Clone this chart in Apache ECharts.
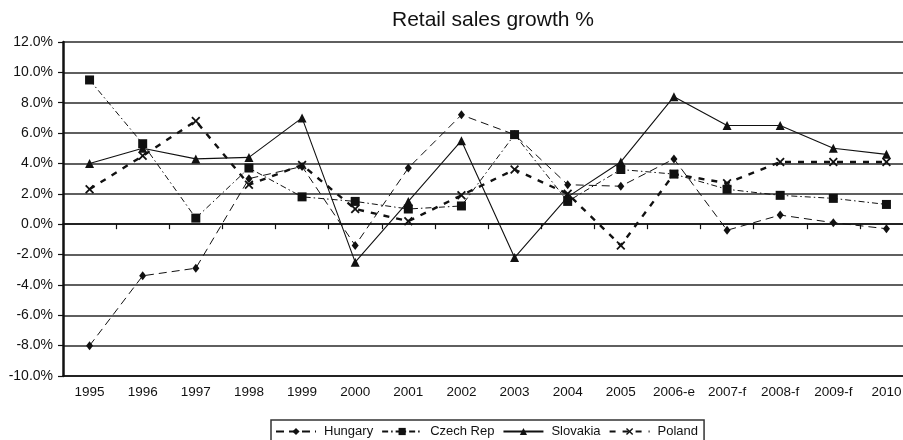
<!DOCTYPE html>
<html>
<head>
<meta charset="utf-8">
<script src="https://cdn.jsdelivr.net/npm/echarts@6/dist/echarts.min.js"></script>
<style>
  html, body { margin: 0; padding: 0; background: #fff; overflow: hidden; width: 903px; height: 440px; }
  /* the plot runs slightly past the right edge of the page */
  #chart { width: 913px; height: 440px; }
</style>
</head>
<body>
<div id="chart"></div>
<script>
// Years (with estimate / forecast flags)
const years = ['1995','1996','1997','1998','1999','2000','2001','2002','2003','2004','2005','2006-e','2007-f','2008-f','2009-f','2010'];

// Retail sales growth, % per year
const hungary  = [-8.0, -3.4, -2.9, 3.0, 3.8, -1.4, 3.7, 7.2, 5.9, 2.6, 2.5, 4.3, -0.4, 0.6, 0.1, -0.3];
const czechRep = [9.5, 5.3, 0.4, 3.7, 1.8, 1.5, 1.0, 1.2, 5.9, 1.5, 3.6, 3.3, 2.3, 1.9, 1.7, 1.3];
const slovakia = [4.0, 5.0, 4.3, 4.4, 7.0, -2.5, 1.5, 5.5, -2.2, 1.8, 4.1, 8.4, 6.5, 6.5, 5.0, 4.6];
const poland   = [2.3, 4.5, 6.8, 2.6, 3.9, 1.0, 0.2, 1.9, 3.6, 2.0, -1.4, 3.3, 2.7, 4.1, 4.1, 4.1];

// Value axis range and step
const yMin = -10, yMax = 12, yStep = 2;

const INK = '#111';
const FONT = '"Liberation Sans", Arial, Helvetica, sans-serif';
const CROSS = 'path://M0,1.4L1.4,0L5,3.6L8.6,0L10,1.4L6.4,5L10,8.6L8.6,10L5,6.4L1.4,10L0,8.6L3.6,5Z';

function lineSeries(name, data, symbol, size, width, dash) {
  return {
    name, type: 'line', data,
    xAxisIndex: 0, yAxisIndex: 0,
    symbol, symbolSize: size,
    showSymbol: true,
    itemStyle: { color: INK },
    lineStyle: { color: INK, width, type: dash },
    emphasis: { disabled: true },
    animation: false
  };
}

const chart = echarts.init(document.getElementById('chart'), null, { renderer: 'canvas' });
chart.setOption({
  backgroundColor: '#fff',
  animation: false,
  title: {
    text: 'Retail sales growth %',
    left: 392, top: 10, padding: 0,
    textStyle: { fontFamily: FONT, fontSize: 21, fontWeight: 'normal', color: INK }
  },
  legend: {
    left: 271, top: 420,
    padding: [5, 6, 8, 4],
    borderColor: '#333', borderWidth: 1.5,
    itemWidth: 40, itemHeight: 9, itemGap: 8,
    textStyle: { fontFamily: FONT, fontSize: 13, color: INK, padding: [0, 0, 0, 3] },
    data: ['Hungary', 'Czech Rep', 'Slovakia', 'Poland']
  },
  grid: { left: 63, top: 42, right: 0, bottom: 64, containLabel: false },
  xAxis: [
    {
      type: 'category', data: years, position: 'bottom', boundaryGap: true,
      axisLine: { onZero: false, lineStyle: { color: INK, width: 1.5 } },
      axisTick: { show: false },
      axisLabel: { fontFamily: FONT, fontSize: 13.5, color: INK, margin: 9, interval: 0 },
      splitLine: { show: false }
    },
    {
      type: 'category', data: years, position: 'top', boundaryGap: true,
      axisLine: { onZero: true, lineStyle: { color: INK, width: 1.5 } },
      axisTick: { show: true, inside: true, length: 5, lineStyle: { color: INK, width: 1.2 } },
      axisLabel: { show: false },
      splitLine: { show: false }
    }
  ],
  yAxis: {
    type: 'value', min: yMin, max: yMax, interval: yStep,
    axisLine: { show: true, onZero: false, lineStyle: { color: INK, width: 2.5 } },
    axisTick: { show: true, length: 5, lineStyle: { color: INK, width: 1.2 } },
    axisLabel: {
      fontFamily: FONT, fontSize: 14, color: INK, margin: 10,
      formatter: v => v.toFixed(1) + '%'
    },
    splitLine: { show: true, lineStyle: { color: '#2a2a2a', width: 1.5 } }
  },
  series: [
    lineSeries('Hungary', hungary, 'diamond', [7, 9], 1, [8, 5]),
    lineSeries('Czech Rep', czechRep, 'rect', 9, 1, [6, 3, 1.5, 3]),
    lineSeries('Slovakia', slovakia, 'triangle', 9, 1.1, 'solid'),
    lineSeries('Poland', poland, CROSS, 9, 2.4, [6, 7])
  ]
});
</script>
</body>
</html>
